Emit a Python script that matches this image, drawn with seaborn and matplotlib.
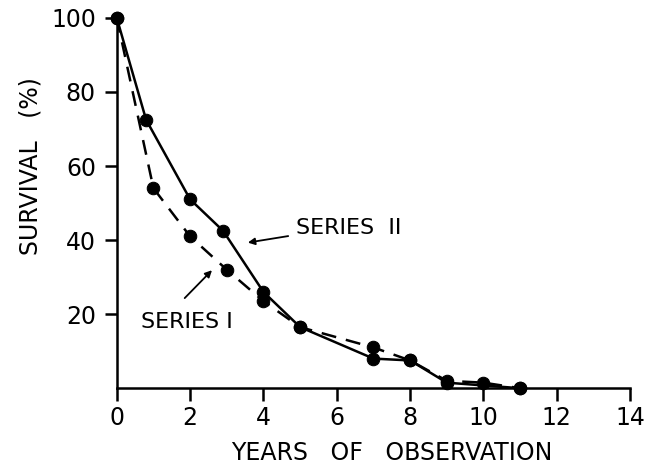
import numpy as np
import pandas as pd
import matplotlib
matplotlib.use("Agg")
import matplotlib.pyplot as plt
import seaborn as sns

# valeurs
years_1 = [0, 1, 2, 3, 4, 5, 7, 8, 9, 10, 11]
survival_1 = [100, 54, 41, 32, 23.5, 16.5, 11, 7.5, 2, 1.5, 0]

years_2 = [0, 0.8, 2, 2.9, 4, 5, 7, 8, 9, 11]
survival_2 = [100, 72.5, 51, 42.5, 26, 16.5, 8, 7.5, 1.5, 0]

x_ticks = [0, 2, 4, 6, 8, 10, 12, 14]
y_ticks = [20, 40, 60, 80, 100]

sns.set_style("ticks")
plt.rcParams['font.family'] = ['DejaVu Sans']
plt.rcParams['text.color'] = 'black'
plt.rcParams['axes.labelcolor'] = 'black'

fig = plt.figure(figsize=(6.45, 4.7), dpi=100)
ax = fig.add_axes([0.181, 0.174, 0.796, 0.788])

df1 = pd.DataFrame({"annees": years_1, "survie": survival_1})
df2 = pd.DataFrame({"annees": years_2, "survie": survival_2})

sns.lineplot(data=df1, x="annees", y="survie", ax=ax, color="black",
             linewidth=1.8, linestyle=(0, (6, 4)), marker="o", markersize=9,
             markeredgecolor="black", clip_on=False)
sns.lineplot(data=df2, x="annees", y="survie", ax=ax, color="black",
             linewidth=1.8, marker="o", markersize=9,
             markeredgecolor="black", clip_on=False)

ax.set_xlim(0, 14)
ax.set_ylim(0, 100)
ax.set_xticks(x_ticks)
ax.set_yticks(y_ticks)
ax.tick_params(axis="both", direction="out", length=9, width=1.8,
               color="black", labelsize=17, labelcolor="black")
ax.tick_params(axis="y", pad=6)
for s in ["left", "bottom"]:
    ax.spines[s].set_linewidth(1.8)
    ax.spines[s].set_color("black")
sns.despine(ax=ax)

ax.set_xlabel("YEARS   OF   OBSERVATION", fontsize=17)
ax.set_ylabel("SURVIVAL   (%)", fontsize=17)
ax.xaxis.set_label_coords(0.536, -0.142)
ax.yaxis.set_label_coords(-0.145, 0.60)

# annotations
ax.annotate("", xy=(3.5, 39.2), xytext=(4.75, 41.2),
            arrowprops=dict(arrowstyle="-|>", color="black", lw=1.3))
ax.text(4.9, 43.2, "SERIES  II", fontsize=16, va="center", ha="left")
ax.annotate("", xy=(2.65, 32.4), xytext=(1.8, 23.8),
            arrowprops=dict(arrowstyle="-|>", color="black", lw=1.3))
ax.text(0.65, 17.8, "SERIES I", fontsize=16, va="center", ha="left")

fig.savefig("out.png", dpi=100)
